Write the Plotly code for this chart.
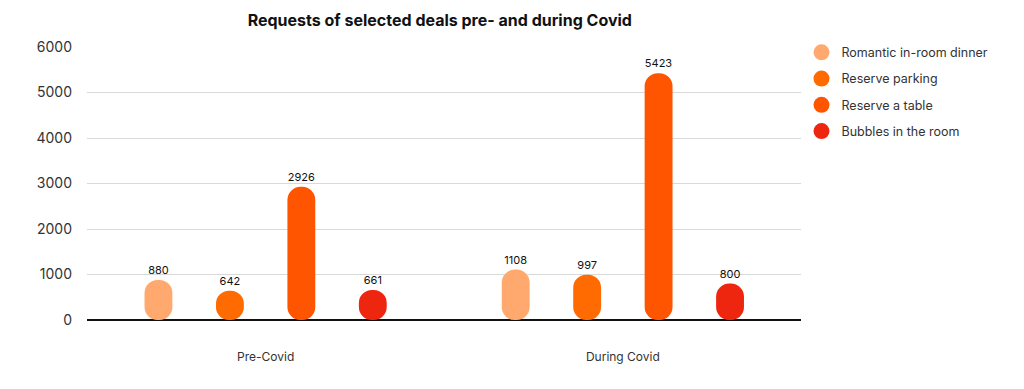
import plotly.graph_objects as go

categories = ["Pre-Covid", "During Covid"]
series_names = ["Romantic in-room dinner", "Reserve parking", "Reserve a table", "Bubbles in the room"]
romantic_dinner = [880, 1108]
reserve_parking = [642, 997]
reserve_table = [2926, 5423]
bubbles_room = [661, 800]
series_values = [romantic_dinner, reserve_parking, reserve_table, bubbles_room]
colors = ["#FFA96E", "#FF6B00", "#FF5500", "#EE2610"]
y_ticks = [0, 1000, 2000, 3000, 4000, 5000, 6000]

fig = go.Figure()
for i, (name, vals, col) in enumerate(zip(series_names, series_values, colors)):
    fig.add_trace(go.Bar(
        x=categories, y=vals, base=[0 for _ in vals], offsetgroup=str(i),
        marker=dict(color=col, line=dict(width=0)), showlegend=False,
        text=[str(v) for v in vals], textposition="outside",
        textfont=dict(size=11, color="#111"), cliponaxis=False,
        name=name))
    fig.add_trace(go.Scatter(
        x=[None], y=[None], mode="markers", name=name, legendgroup=name,
        marker=dict(color=col, size=16, symbol="circle")))

fig.update_layout(
    width=1016, height=381,
    barmode="group", bargap=0.2, bargroupgap=0.61,
    barcornerradius="50%",
    plot_bgcolor="white", paper_bgcolor="white",
    font=dict(family="Inter, Open Sans, sans-serif", color="#333"),
    margin=dict(l=79, r=219, t=39, b=69),
    title=dict(text="<b>Requests of selected deals pre- and during Covid</b>",
               x=0.425, xanchor="center", y=0.968, yanchor="middle",
               font=dict(size=16, color="#111")),
    legend=dict(xref="container", yref="container", x=0.781, y=0.922,
                xanchor="left", yanchor="top", font=dict(size=12.5, color="#333"),
                tracegroupgap=7, bgcolor="rgba(0,0,0,0)"),
    showlegend=True,
)
fig.update_yaxes(range=[0, 6000], tickvals=y_ticks, showgrid=True,
                 gridcolor="#d9d9d9", gridwidth=1, zeroline=True,
                 zerolinecolor="#111", zerolinewidth=1.5, automargin=False,
                 tickfont=dict(size=14, color="#333"), ticklabelstandoff=14)
fig.update_xaxes(showgrid=False, tickfont=dict(size=12, color="#333"),
                 ticklabelstandoff=28, automargin=False)

fig.write_html("out.html")
